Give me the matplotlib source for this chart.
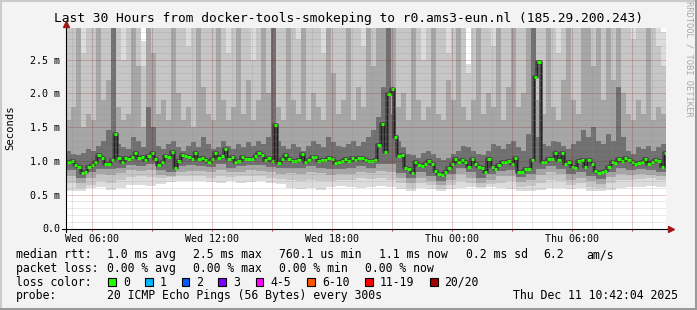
import numpy as np
import matplotlib
matplotlib.use("Agg")
import matplotlib.pyplot as plt
from matplotlib.lines import Line2D
from matplotlib.patches import Rectangle

# ---- data (hours counted from Wed 00:00) ----
t_start = 4.75          # first median sample
t_step = 1.0 / 6        # 10 minute samples
median_ms = [
    0.99, 0.995, 0.94, 0.91, 0.82, 0.84, 0.91, 0.94, 0.99, 1.09, 1.045, 0.95, 0.95, 1.01, 1.40,
    1.045, 0.98, 1.045, 1.035, 1.06, 1.12, 1.045, 1.06, 1.01, 1.075, 1.12, 1.035, 0.94, 0.98, 1.075,
    1.06, 1.13, 0.90, 1.0, 1.085, 1.075, 1.06, 1.025, 1.11, 1.035, 1.05, 1.01, 0.99, 1.035, 1.12,
    1.05, 1.07, 1.17, 1.035, 1.06, 0.985, 1.0, 1.06, 1.035, 1.035, 1.03, 1.075, 1.12, 1.085, 1.02,
    1.045, 1.0, 1.525, 0.975, 1.035, 1.08, 1.035, 1.0, 1.0, 1.01, 1.095, 0.985, 1.01, 1.055, 1.055,
    1.0, 1.02, 1.01, 1.04, 1.025, 0.975, 0.985, 1.005, 1.025, 1.0, 1.045, 1.01, 1.05, 1.05, 1.01,
    1.005, 1.0, 1.02, 1.23, 1.55, 1.13, 1.99, 2.07, 1.35, 1.07, 1.085, 0.90, 0.88, 0.815, 0.985,
    0.935, 0.925, 0.96, 1.005, 0.96, 0.85, 0.80, 0.79, 0.84, 0.89, 0.96, 1.035, 0.985, 1.01, 0.985,
    0.905, 1.025, 0.96, 0.91, 0.90, 0.83, 1.035, 0.91, 0.875, 0.935, 0.985, 0.985, 0.995, 0.96, 1.045,
    0.84, 0.84, 0.88, 0.875, 1.01, 2.24, 2.46, 0.985, 0.985, 1.025, 1.025, 1.11, 1.01, 1.115, 0.96,
    0.985, 0.91, 0.89, 1.0, 1.01, 0.91, 1.01, 0.96, 0.855, 0.815, 0.84, 0.85, 0.91, 0.99, 0.975,
    1.025, 1.0, 1.045, 1.01, 0.98, 0.96, 0.975, 0.985, 1.035, 0.96, 0.985, 1.01, 0.995, 0.91, 1.11,
]

# smoke below the median, one value per 30 minute bin
lo_start = 4.7
lo_width = 0.5
smoke_min = [0.56, 0.55, 0.60, 0.62, 0.57, 0.60, 0.64, 0.65, 0.63, 0.66, 0.69, 0.70, 0.71, 0.70, 0.69,
             0.68, 0.70, 0.67, 0.69, 0.70, 0.68, 0.66, 0.60, 0.58, 0.60, 0.57, 0.62, 0.63, 0.62, 0.60,
             0.62, 0.63, 0.61, 0.58, 0.55, 0.60, 0.58, 0.55, 0.58, 0.60, 0.61, 0.60, 0.62, 0.60, 0.59,
             0.56, 0.55, 0.57, 0.60, 0.60, 0.58, 0.60, 0.56, 0.55, 0.57, 0.60, 0.62, 0.61, 0.63, 0.62]
lo_light = [0.68, 0.60, 0.65, 0.70, 0.68, 0.72, 0.76, 0.77, 0.76, 0.74, 0.76, 0.78, 0.78, 0.77, 0.75,
            0.77, 0.76, 0.77, 0.78, 0.77, 0.75, 0.73, 0.72, 0.70, 0.72, 0.70, 0.71, 0.72, 0.72, 0.74,
            0.73, 0.74, 0.72, 0.68, 0.60, 0.68, 0.64, 0.59, 0.65, 0.70, 0.68, 0.62, 0.66, 0.68, 0.70,
            0.62, 0.63, 0.68, 0.72, 0.70, 0.64, 0.68, 0.62, 0.60, 0.67, 0.72, 0.72, 0.73, 0.74, 0.72]
lo_mid = [0.78, 0.68, 0.74, 0.80, 0.79, 0.82, 0.86, 0.85, 0.86, 0.79, 0.77, 0.84, 0.85, 0.85, 0.83,
          0.87, 0.83, 0.84, 0.86, 0.85, 0.83, 0.81, 0.82, 0.80, 0.84, 0.82, 0.79, 0.80, 0.81, 0.84,
          0.82, 0.85, 0.84, 0.74, 0.67, 0.75, 0.70, 0.64, 0.72, 0.80, 0.75, 0.68, 0.72, 0.77, 0.78,
          0.69, 0.72, 0.79, 0.83, 0.80, 0.72, 0.75, 0.70, 0.66, 0.76, 0.81, 0.79, 0.80, 0.79, 0.77]
lo_dark = [0.86, 0.75, 0.83, 0.88, 0.88, 0.90, 0.94, 0.93, 0.95, 0.86, 0.84, 0.92, 0.94, 0.93, 0.91,
           0.96, 0.90, 0.92, 0.94, 0.94, 0.91, 0.89, 0.90, 0.89, 0.92, 0.90, 0.88, 0.88, 0.90, 0.92,
           0.90, 0.95, 0.95, 0.82, 0.74, 0.84, 0.78, 0.71, 0.80, 0.89, 0.83, 0.75, 0.80, 0.85, 0.87,
           0.76, 0.80, 0.88, 0.92, 0.88, 0.80, 0.83, 0.78, 0.73, 0.84, 0.90, 0.87, 0.88, 0.87, 0.84]

# smoke above the median, one value per 15 minute bin
hi_start = 4.7
hi_width = 0.25
hi_dark = [
    1.15, 1.10, 1.08, 1.12, 1.18, 1.15, 1.22, 1.30, 1.45, 3.2,
    1.25, 1.20, 1.18, 1.35, 1.30, 1.20, 1.80, 1.50, 1.22, 1.18,
    1.25, 1.30, 1.20, 1.15, 1.22, 1.28, 1.20, 1.35, 1.25, 1.18,
    1.20, 1.30, 1.22, 1.18, 1.25, 1.20, 1.28, 1.22, 1.30, 1.25,
    1.35, 3.2, 1.30, 1.22, 1.18, 1.25, 1.20, 1.15, 1.22, 1.30,
    1.25, 1.20, 1.35, 1.28, 1.22, 1.20, 1.25, 1.30, 1.22, 1.28,
    1.35, 1.45, 1.65, 2.10, 3.2, 1.70, 1.30, 1.20, 1.10, 1.08,
    1.05, 1.12, 1.15, 1.10, 1.05, 1.02, 1.05, 1.10, 1.15, 1.22,
    1.20, 1.15, 1.10, 1.08, 1.15, 1.25, 1.22, 1.18, 1.25, 1.30,
    1.20, 1.15, 1.40, 3.2, 1.35, 1.25, 1.22, 1.30, 1.28, 1.22,
    1.18, 1.25, 1.30, 1.45, 1.35, 1.50, 1.30, 1.25, 1.40, 1.30,
    2.10, 1.35, 1.15, 1.10, 1.20, 1.18, 1.22, 1.15, 1.20, 1.25]
hi_mid = [
    1.6, 1.8, 3.2, 1.5, 1.7, 1.6, 3.2, 1.9, 2.2, 3.2,
    1.8, 1.6, 1.7, 3.2, 2.4, 1.5, 3.2, 2.6, 1.7, 1.9,
    1.6, 3.2, 2.0, 1.6, 1.8, 1.5, 3.2, 2.1, 1.7, 1.6,
    3.2, 1.9, 1.6, 1.8, 3.2, 1.7, 2.2, 1.6, 1.9, 3.2,
    2.0, 3.2, 1.8, 1.6, 3.2, 1.9, 1.7, 3.2, 1.6, 2.0,
    1.8, 1.6, 3.2, 2.3, 1.7, 1.9, 3.2, 1.6, 2.1, 1.8,
    3.2, 2.4, 3.2, 3.2, 3.2, 3.2, 1.8, 2.0, 1.6, 3.2,
    1.9, 1.6, 1.8, 3.2, 1.7, 1.6, 2.2, 1.9, 3.2, 1.8,
    1.6, 1.9, 3.2, 1.7, 2.0, 1.8, 3.2, 1.6, 2.1, 3.2,
    1.8, 2.0, 3.2, 3.2, 1.9, 1.7, 3.2, 1.8, 1.6, 2.2,
    3.2, 1.9, 1.7, 3.2, 3.2, 2.4, 3.2, 1.9, 3.2, 2.2,
    3.2, 2.0, 1.7, 1.6, 1.9, 1.7, 3.2, 1.6, 1.8, 1.7]
hi_light = [
    3.2, 3.2, 3.2, 2.6, 3.2, 3.2, 3.2, 3.2, 3.2, 3.2,
    3.2, 2.5, 3.2, 3.2, 3.2, 2.4, 3.2, 3.2, 3.2, 3.2,
    3.2, 3.2, 3.2, 3.2, 2.7, 3.2, 3.2, 3.2, 3.2, 3.2,
    3.2, 3.2, 2.6, 3.2, 3.2, 3.2, 3.2, 2.5, 3.2, 3.2,
    3.2, 3.2, 3.2, 3.2, 3.2, 3.2, 2.8, 3.2, 3.2, 3.2,
    3.2, 2.6, 3.2, 3.2, 3.2, 3.2, 3.2, 3.2, 3.2, 2.7,
    3.2, 3.2, 3.2, 3.2, 3.2, 3.2, 3.2, 3.2, 3.2, 3.2,
    3.2, 2.5, 3.2, 3.2, 3.2, 3.2, 2.6, 3.2, 2.3, 3.2,
    2.3, 3.2, 3.2, 3.2, 3.2, 2.7, 3.2, 3.2, 3.2, 3.2,
    3.2, 3.2, 3.2, 3.2, 3.2, 3.2, 3.2, 3.2, 2.6, 3.2,
    3.2, 3.2, 3.2, 3.2, 3.2, 3.2, 3.2, 3.2, 3.2, 3.2,
    3.2, 3.2, 3.2, 2.8, 3.2, 3.2, 3.2, 3.2, 2.7, 2.4]
smoke_max = [
    3.2, 3.2, 3.2, 3.2, 3.2, 3.2, 3.2, 3.2, 3.2, 3.2,
    3.2, 3.2, 3.2, 3.2, 3.2, 2.78, 3.2, 3.2, 3.2, 3.2,
    3.2, 3.2, 3.2, 3.2, 3.2, 3.2, 3.2, 3.2, 3.2, 3.2,
    3.2, 3.2, 3.2, 3.2, 3.2, 3.2, 3.2, 3.2, 3.2, 3.2,
    3.2, 3.2, 3.2, 3.2, 3.2, 3.2, 3.2, 3.2, 3.2, 3.2,
    3.2, 3.2, 3.2, 3.2, 3.2, 3.2, 3.2, 3.2, 3.2, 3.2,
    3.2, 3.2, 3.2, 3.2, 3.2, 3.2, 3.2, 3.2, 3.2, 3.2,
    3.2, 3.2, 3.2, 3.2, 3.2, 3.2, 3.2, 3.2, 3.2, 3.2,
    2.44, 3.2, 3.2, 3.2, 3.2, 3.2, 3.2, 3.2, 3.2, 3.2,
    3.2, 3.2, 3.2, 3.2, 3.2, 3.2, 3.2, 3.2, 3.2, 3.2,
    3.2, 3.2, 3.2, 3.2, 3.2, 3.2, 3.2, 3.2, 3.2, 3.2,
    3.2, 3.2, 3.2, 3.2, 3.2, 3.2, 3.2, 3.2, 3.2, 2.9]

y_ticks = [0.0, 0.5, 1.0, 1.5, 2.0, 2.5]
y_labels = ["0.0", "0.5 m", "1.0 m", "1.5 m", "2.0 m", "2.5 m"]
x_ticks = [6, 12, 18, 24, 30]
x_labels = ["Wed 06:00", "Wed 12:00", "Wed 18:00", "Thu 00:00", "Thu 06:00"]

loss_labels = ["0", "1", "2", "3", "4-5", "6-10", "11-19", "20/20"]
loss_colors = ["#26ff00", "#00b8ff", "#0059ff", "#7e00ff", "#ff00ff", "#ff5500", "#ff0000", "#a10000"]
loss_box_x = [108.3, 145, 181.7, 218.3, 255.7, 307.3, 365, 430]

# ---- figure ----
W, H = 697, 310
MONO = "DejaVu Sans Mono"


def fx(px):
    return px / W


def fy(py):
    return 1 - py / H


fig = plt.figure(figsize=(W / 100, H / 100), dpi=100, facecolor="#f3f3f3")

ax = fig.add_axes([fx(66.3), fy(228.5), 600 / W, 200.5 / H])
ax.set_facecolor("white")
ax.set_xlim(4.7, 34.7)
ax.set_ylim(0, 2.966)
for s in ax.spines.values():
    s.set_visible(False)


def ext(a):
    return np.append(a, a[-1])


# smoke layers, lightest first; each band is drawn as a lower and an upper half
lo_edges = lo_start + lo_width * np.arange(len(smoke_min) + 1)
hi_edges = hi_start + hi_width * np.arange(len(smoke_max) + 1)
joint = 0.97
layers = [(smoke_min, smoke_max, "#dcdcdc"),
          (lo_light, hi_light, "#c6c6c6"),
          (lo_mid, hi_mid, "#a6a6a6"),
          (lo_dark, hi_dark, "#707070")]
for lo, hi, c in layers:
    ax.fill_between(lo_edges, ext(lo), joint, step="post", color=c, lw=0, zorder=1)
    ax.fill_between(hi_edges, joint, ext(hi), step="post", color=c, lw=0, zorder=1)

# median: dark core + green dashes
med = np.array(median_ms)
t = t_start + t_step * np.arange(len(med))
t_edges = np.append(t, t[-1] + t_step)
ax.step(t_edges, ext(med), where="post", color="#444444", lw=2.6, zorder=2)
ax.step(t_edges, ext(med), where="post", color="#1a1a1a", lw=0.6, zorder=3)
ax.hlines(med, t, t + t_step, color="#26ff00", lw=2.2, zorder=4)

# grid on top like rrdtool
dot = (0, (1, 1))
for k in range(1, 30):
    v = k / 10
    if k % 5 == 0:
        ax.axhline(v, color="#821e1e", alpha=0.45, lw=0.72, ls=dot, zorder=5)
    else:
        ax.axhline(v, color="#8c8c8c", alpha=0.4, lw=0.72, ls=dot, zorder=5)
for h in range(5, 35):
    if h % 3 == 0:
        ax.axvline(h, color="#821e1e", alpha=0.45, lw=0.72, ls=dot, zorder=5)
    else:
        ax.axvline(h, color="#8c8c8c", alpha=0.4, lw=0.72, ls=dot, zorder=5)

ax.set_yticks(y_ticks)
ax.set_yticklabels(y_labels, family=MONO, fontsize=7.2)
ax.set_xticks(x_ticks)
ax.set_xticklabels(x_labels, family=MONO, fontsize=7.2)
ax.set_xticks(range(9, 34, 6), minor=True)
ax.tick_params(axis="y", length=0, pad=4.5)
ax.tick_params(axis="x", which="both", length=1.5, width=0.7, color="#b03030", pad=2.5)

# axes with arrows
fig.add_artist(Line2D([fx(62), fx(669)], [fy(228.5)] * 2, color="black", lw=0.8))
fig.add_artist(Line2D([fx(66.3)] * 2, [fy(232), fy(25)], color="black", lw=0.8))
fig.add_artist(Line2D([fx(670.5)], [fy(228.5)], marker=">", ms=4.5, color="#a01818", ls="none"))
fig.add_artist(Line2D([fx(66.3)], [fy(23.5)], marker="^", ms=4.5, color="#a01818", ls="none"))

# titles
fig.text(fx(348), fy(18.5), "Last 30 Hours from docker-tools-smokeping to r0.ams3-eun.nl (185.29.200.243)",
         family=MONO, fontsize=9.3, ha="center", va="center")
fig.text(fx(10), fy(128), "Seconds", family=MONO, fontsize=7.6, rotation=90, ha="center", va="center")
fig.text(fx(688.5), fy(59), "RRDTOOL / TOBI OETIKER", family=MONO, fontsize=6.3, rotation=270,
         ha="center", va="center", color="#a8a8a8")


def txt(x, y, s):
    fig.text(fx(x), fy(y), s, family=MONO, fontsize=8.3, ha="left", va="center")


y1, y2, y3, y4 = 254.7, 268.3, 282, 295.7
txt(16, y1, "median rtt:")
txt(107.3, y1, "1.0 ms avg")
txt(193.3, y1, "2.5 ms max")
txt(279.3, y1, "760.1 us min")
txt(379.3, y1, "1.1 ms now")
txt(465.7, y1, "0.2 ms sd")
txt(543.3, y1, "6.2")
txt(586, y1, "am/s")

txt(16, y2, "packet loss:")
txt(107.3, y2, "0.00 % avg")
txt(193.3, y2, "0.00 % max")
txt(279.3, y2, "0.00 % min")
txt(365, y2, "0.00 % now")

txt(16, y3, "loss color:")
for bx, lab, col in zip(loss_box_x, loss_labels, loss_colors):
    fig.add_artist(Rectangle((fx(bx), fy(y3 + 3.7)), 7.5 / W, 7.4 / H, facecolor=col,
                             edgecolor="black", lw=0.8, transform=fig.transFigure))
    txt(bx + 14.5, y3, lab)

txt(16, y4, "probe:")
txt(107.3, y4, "20 ICMP Echo Pings (56 Bytes) every 300s")
txt(513.3, y4, "Thu Dec 11 10:42:04 2025")

# 3d frame
fig.add_artist(Line2D([0, 1], [fy(0.8)] * 2, color="#cbcbcb", lw=1.5))
fig.add_artist(Line2D([fx(0.8)] * 2, [0, 1], color="#cbcbcb", lw=1.5))
fig.add_artist(Line2D([0, 1], [fy(308.8)] * 2, color="#999999", lw=2.2))
fig.add_artist(Line2D([fx(695.8)] * 2, [0, 1], color="#999999", lw=2.2))

fig.savefig("out.png", dpi=100, facecolor=fig.get_facecolor())
